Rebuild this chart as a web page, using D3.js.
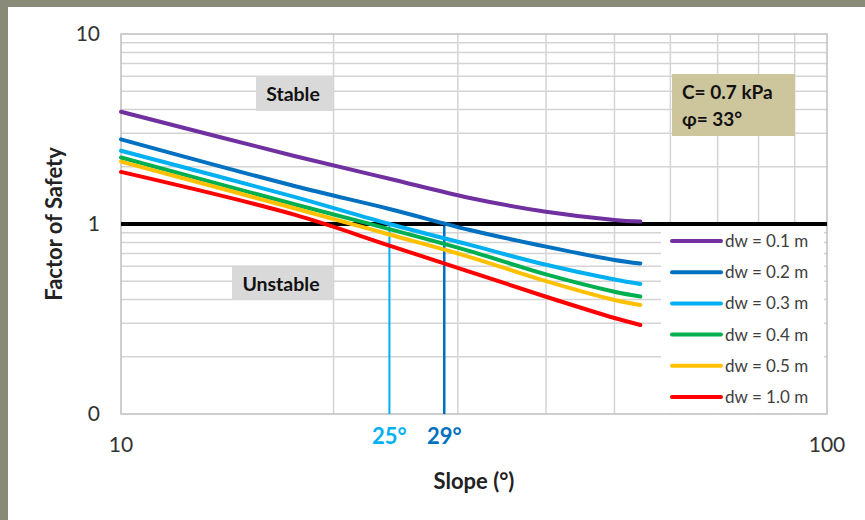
<!DOCTYPE html>
<html><head><meta charset="utf-8">
<script src="https://cdn.jsdelivr.net/npm/d3@7"></script>
<style>body{margin:0;background:#fff;} svg{display:block;font-family:Lato,"Open Sans",sans-serif;}</style>
</head><body>
<svg id="c" width="865" height="520"></svg>
<script>
const slopes = [10, 17.6, 24, 31.2, 40, 50, 54.4];
const seriesNames = ["dw = 0.1 m","dw = 0.2 m","dw = 0.3 m","dw = 0.4 m","dw = 0.5 m","dw = 1.0 m"];
const fs01 = [3.90, 2.28, 1.73, 1.37, 1.16, 1.05, 1.03];
const fs02 = [2.79, 1.585, 1.20, 0.93, 0.76, 0.647, 0.62];
const fs03 = [2.43, 1.39, 1.00, 0.776, 0.61, 0.51, 0.483];
const fs04 = [2.24, 1.27, 0.94, 0.72, 0.543, 0.44, 0.415];
const fs05 = [2.13, 1.21, 0.88, 0.67, 0.50, 0.398, 0.375];
const fs10 = [1.88, 1.12, 0.77, 0.56, 0.414, 0.32, 0.294];
const colors = ["#7030a0","#0070c0","#00b0f0","#00b050","#ffc000","#ff0000"];
const critSlopes = [24.0, 28.7];
const critLabels = ["25°","29°"];
const critColors = ["#00b0f0","#0070c0"];
const xTickLabels = [[10,"10"],[100,"100"]];
const yTickLabels = [[10,"10"],[1,"1"],[0.1,"0"]];

const allSeries = [fs01,fs02,fs03,fs04,fs05,fs10];
const svg = d3.select("#c");
// frame
svg.append("rect").attr("x",0).attr("y",0).attr("width",865).attr("height",7).attr("fill","#898a78");
svg.append("rect").attr("x",0).attr("y",0).attr("width",8).attr("height",520).attr("fill","#898a78");

const x = d3.scaleLog().domain([10,100]).range([121,827]);
const y = d3.scaleLog().domain([0.1,10]).range([414,34]);

const grid = svg.append("g");
const xg = [20,30,40,50,60,70,80,90];
const yg = [0.2,0.3,0.4,0.5,0.6,0.7,0.8,0.9,2,3,4,5,6,7,8,9,1];
grid.selectAll("line.v").data(xg).join("line").attr("x1",d=>x(d)).attr("x2",d=>x(d)).attr("y1",y(10)).attr("y2",y(0.1)).attr("stroke","#d4d4d4").attr("stroke-width",1.5);
grid.selectAll("line.h").data(yg).join("line").attr("y1",d=>y(d)).attr("y2",d=>y(d)).attr("x1",x(10)).attr("x2",x(100)).attr("stroke","#d4d4d4").attr("stroke-width",1.5);
svg.append("rect").attr("x",x(10)).attr("y",y(10)).attr("width",x(100)-x(10)).attr("height",y(0.1)-y(10)).attr("fill","none").attr("stroke","#bfbfbf").attr("stroke-width",1.5);

// labels boxes
function box(x0,y0,w,h,fill,lines,tx,ty,anchor,lh,fsz){
  svg.append("rect").attr("x",x0).attr("y",y0).attr("width",w).attr("height",h).attr("fill",fill);
  lines.forEach((t,i)=>svg.append("text").attr("x",tx).attr("y",ty+i*lh).attr("text-anchor",anchor)
    .attr("font-weight","bold").attr("font-size",fsz).attr("fill","#111").text(t));
}
box(256,76,77,35,"#d9d9d9",["Stable"],293,100.5,"middle",0,19.5);
box(232,267,101,33,"#d9d9d9",["Unstable"],281,290.5,"middle",0,19.5);
box(672,74,123,62,"#cdc59c",["C= 0.7 kPa","φ= 33°"],682,99,"start",27,19);

// critical lines
critSlopes.forEach((s,i)=>{
  svg.append("line").attr("x1",x(s)).attr("x2",x(s)).attr("y1",y(1)).attr("y2",y(0.1))
    .attr("stroke",critColors[i]).attr("stroke-width",i?2.5:2);
  svg.append("text").attr("x",x(s)).attr("y",444).attr("text-anchor","middle").attr("font-weight","bold")
    .attr("font-size",22).attr("fill",critColors[i]).text(critLabels[i]);
});

// FS = 1 line
svg.append("line").attr("x1",x(10)).attr("x2",x(100)).attr("y1",y(1)).attr("y2",y(1)).attr("stroke","#000").attr("stroke-width",4);

// legend box
svg.append("rect").attr("x",661).attr("y",226).attr("width",163).attr("height",187).attr("fill","#fff");

const line = d3.line().x((d,i)=>x(slopes[i])).y(d=>y(d)).curve(d3.curveCatmullRom.alpha(0.5));
allSeries.forEach((s,i)=>{
  svg.append("path").attr("d",line(s)).attr("fill","none").attr("stroke",colors[i]).attr("stroke-width",4).attr("stroke-linecap","round");
});

// legend
seriesNames.forEach((n,i)=>{
  const ly = 241 + i*31.2;
  svg.append("line").attr("x1",672).attr("x2",721).attr("y1",ly).attr("y2",ly).attr("stroke",colors[i]).attr("stroke-width",4).attr("stroke-linecap","round");
  svg.append("text").attr("x",725).attr("y",ly).attr("dy","0.35em").attr("font-size",17).attr("fill","#404040").text(n);
});

// ticks
xTickLabels.forEach(([v,t])=>svg.append("text").attr("x",x(v)).attr("y",452).attr("text-anchor","middle").attr("font-size",21).attr("fill","#333").text(t));
yTickLabels.forEach(([v,t])=>svg.append("text").attr("x",100).attr("y",y(v)).attr("dy","0.35em").attr("text-anchor","end").attr("font-size",21).attr("fill","#333").text(t));

// axis titles
svg.append("text").attr("x",474).attr("y",489).attr("text-anchor","middle").attr("font-weight","bold").attr("font-size",22).attr("fill","#222").text("Slope (°)");
svg.append("text").attr("transform","translate(62,224) rotate(-90)").attr("text-anchor","middle").attr("font-weight","bold").attr("font-size",22).attr("fill","#222").text("Factor of Safety");
</script>
</body></html>
